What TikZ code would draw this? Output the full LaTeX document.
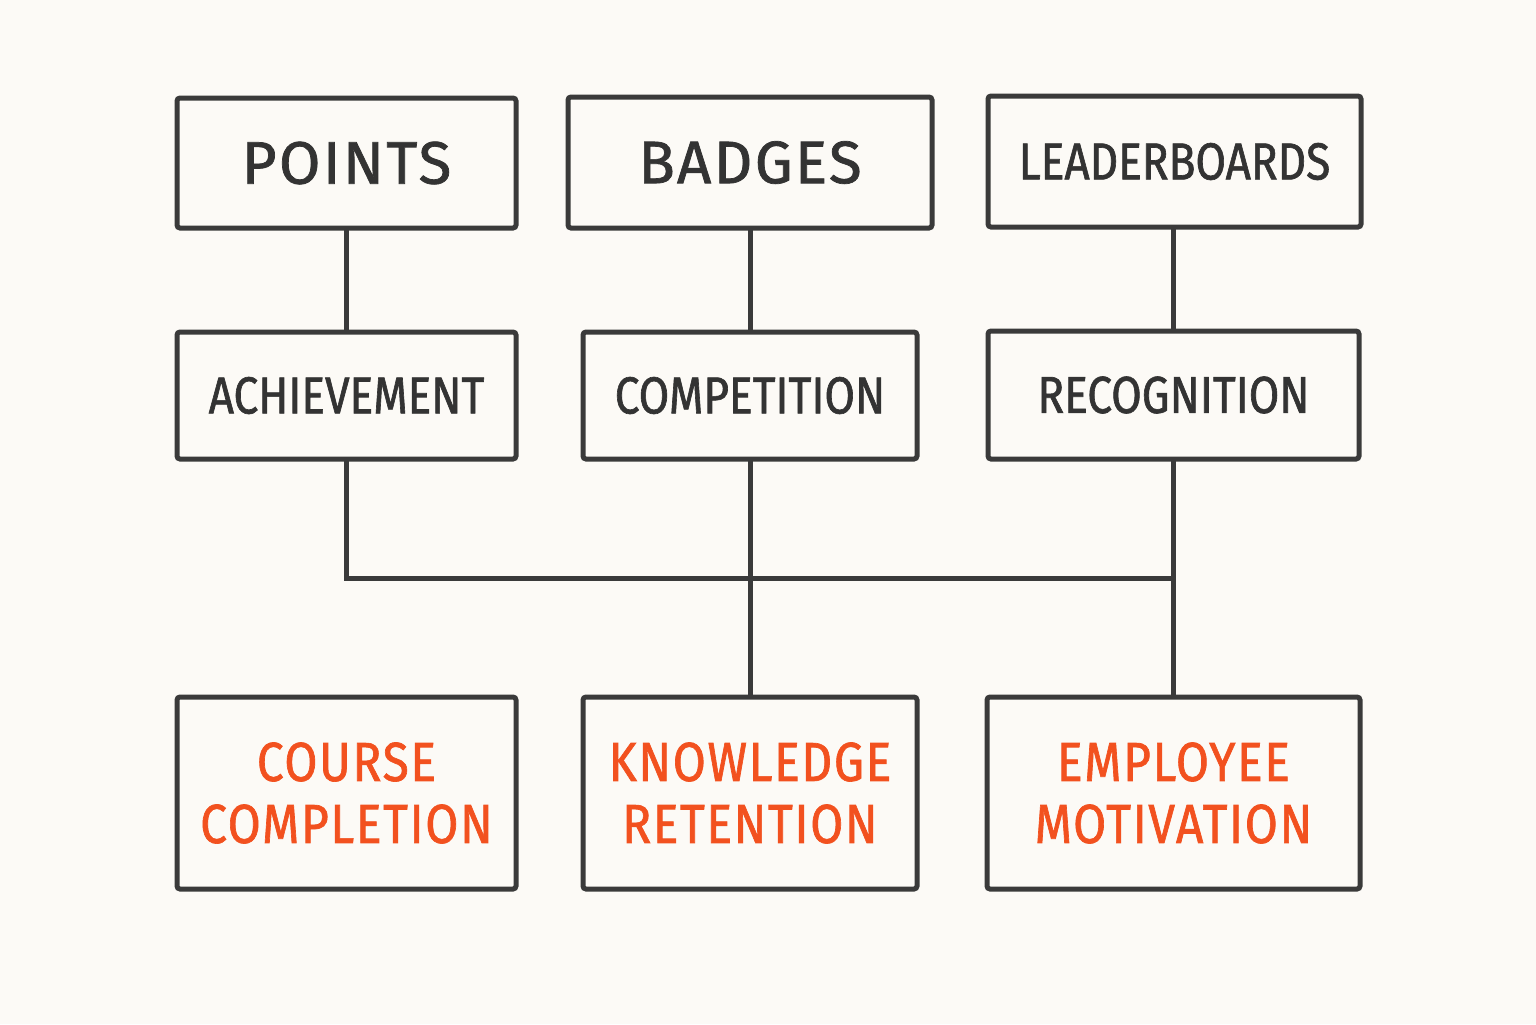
\documentclass[tikz,border=0pt]{standalone}
\usepackage{fontspec}
\setmainfont{Fira Sans}[FakeBold=1.2, LetterSpace=4]
\newfontfamily\narrowfont{Fira Sans}[FakeStretch=0.85, FakeBold=1.2]
\newfontfamily\widenarrowfont{Fira Sans}[FakeStretch=0.87, FakeBold=1.2, LetterSpace=3]
\definecolor{paper}{HTML}{FCFAF6}
\definecolor{ink}{HTML}{3A3A3A}
\definecolor{label}{HTML}{333333}
\definecolor{goal}{HTML}{F2511F}

\tikzset{every picture/.style={line width=2.5pt}}
\tikzset{
  box/.style={draw=ink, fill=paper, rounded corners=1.5pt, inner sep=0pt, align=center},
  mech/.style={box, text=label, font=\fontsize{30}{34}\selectfont},
  drive/.style={box, text=label, font=\narrowfont\fontsize{26}{30}\selectfont},
  outcome/.style={box, text=goal, font=\widenarrowfont\fontsize{27.5}{31}\selectfont},
  link/.style={draw=ink, line cap=rect}
}

\begin{document}
\begin{tikzpicture}[x=0.5pt,y=0.5pt,yscale=-1,xscale=1]
%set diagram at 1536 x 1024
\fill [paper] (0,0) rectangle (1536,1024);

% Mechanics row
\node [mech, minimum width=169.5pt, minimum height=65pt] (points) at (346.5,163) {POINTS};
\node [mech, minimum width=182pt, minimum height=65.5pt] (badges) at (750,162.5) {BADGES};
\node [mech, font=\narrowfont\fontsize{26}{30}\selectfont, minimum width=186.5pt, minimum height=65.5pt] (leaders) at (1174.5,161.5) {LEADERBOARDS};

% Drivers row
\node [drive, minimum width=169.5pt, minimum height=63.5pt] (achieve) at (346.5,395.5) {ACHIEVEMENT};
\node [drive, minimum width=167pt, minimum height=63.5pt] (compete) at (750,395.5) {COMPETITION};
\node [drive, minimum width=185.5pt, minimum height=64pt] (recog) at (1173.5,395) {RECOGNITION};

% Outcomes row
\node [outcome, minimum width=169.5pt, minimum height=96pt] (course) at (346.5,793) {COURSE\\COMPLETION};
\node [outcome, minimum width=167pt, minimum height=96pt] (knowledge) at (750,793) {KNOWLEDGE\\RETENTION};
\node [outcome, minimum width=186.5pt, minimum height=96pt] (employee) at (1173.5,793) {EMPLOYEE\\MOTIVATION};

%bus line
\coordinate (bus) at (1172,578);

% Connectors
\draw [link] (points.south) -- (points.south |- achieve.north);
\draw [link] (badges.south) -- (badges.south |- compete.north);
\draw [link] (leaders.south -| recog.north) -- (recog.north);
\draw [link] (achieve.south) -- (achieve.south |- bus) -- (bus);
\draw [link] (compete.south) -- (compete.south |- knowledge.north);
\draw [link] (recog.south) -- (recog.south |- employee.north);

\end{tikzpicture}
\end{document}
